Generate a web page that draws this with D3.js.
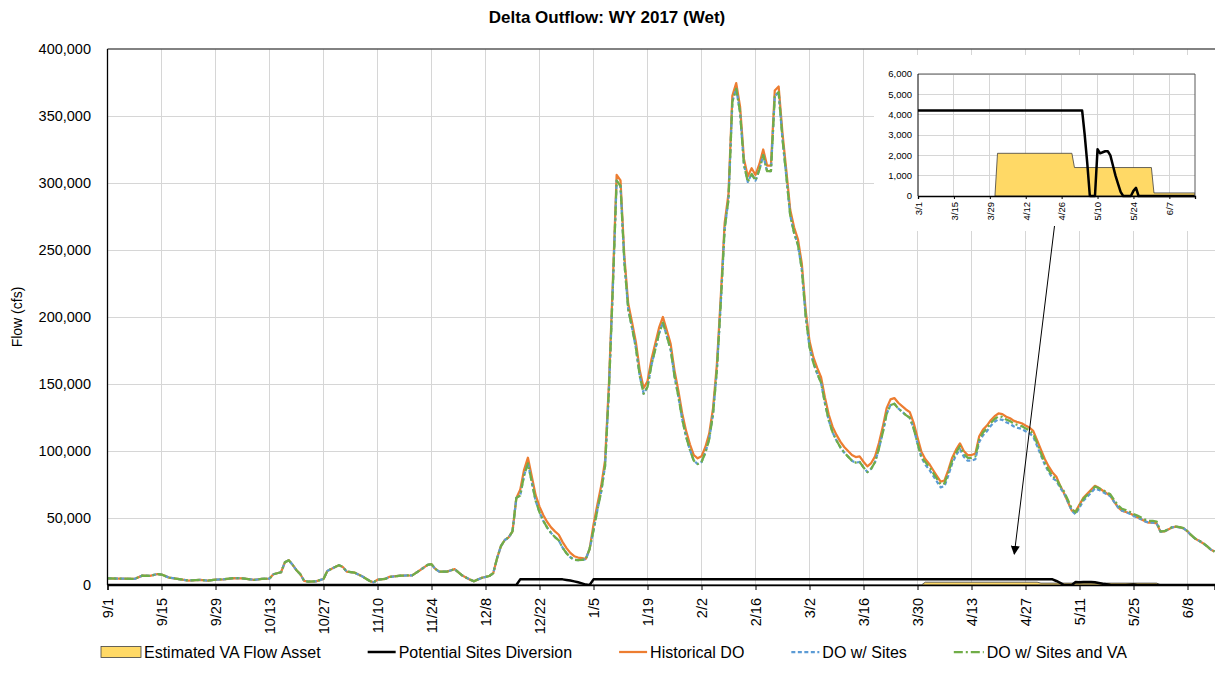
<!DOCTYPE html>
<html><head><meta charset="utf-8">
<script src="https://cdn.jsdelivr.net/npm/d3@7/dist/d3.min.js"></script>
<style>
html,body{margin:0;padding:0;background:#fff;}
svg{display:block;}
text{font-family:"Liberation Sans",Arial,sans-serif;fill:#000;}
.grid line{shape-rendering:crispEdges;}
</style></head><body>
<svg id="chart" width="1215" height="675"></svg>
<script>
// ---------------- DATA ----------------
const chartTitle = "Delta Outflow: WY 2017 (Wet)";
const yAxisTitle = "Flow (cfs)";
const seriesNames = ["Estimated VA Flow Asset","Potential Sites Diversion","Historical DO","DO w/ Sites","DO w/ Sites and VA"];

// Sep 1 - Dec 15: all three outflow series coincide (no diversion, no VA)
const earlyDates = ["9/1","9/4","9/8","9/10","9/12","9/14","9/15","9/17","9/20","9/22","9/25","9/27","9/29",
"10/1","10/4","10/6","10/9","10/11","10/13","10/14","10/16","10/17","10/18","10/19","10/20","10/21","10/22","10/23","10/25","10/27","10/28","10/30","10/31",
"11/1","11/2","11/4","11/6","11/8","11/9","11/10","11/12","11/13","11/16","11/19","11/21","11/23","11/24","11/25","11/26","11/28","11/30",
"12/2","12/4","12/5","12/7","12/9","12/10","12/11","12/12","12/13","12/14","12/15"];
const earlyFlow = [5000,4800,4500,7000,6800,8200,7800,5500,4200,3300,3800,3300,4000,
4200,5200,5000,3800,4600,4800,8000,9500,17000,18500,15000,11000,8000,3000,2600,2700,4500,10500,13500,14800,
13500,10000,9300,6500,3000,2000,4000,4500,6000,7000,7200,11000,15000,15500,12000,10000,10000,11800,
7000,4000,2800,5300,6700,8800,20000,29000,33600,35500,40000];

// Dec 16 - Jun 15 (daily)
const dailyDates = [
"12/16","12/17","12/18","12/19","12/20","12/21","12/22","12/23","12/24","12/25","12/26","12/27","12/28","12/29","12/30","12/31",
"1/1","1/2","1/3","1/4","1/5","1/6","1/7","1/8","1/9","1/10","1/11","1/12","1/13","1/14","1/15","1/16","1/17","1/18","1/19","1/20","1/21","1/22","1/23","1/24","1/25","1/26","1/27","1/28","1/29","1/30","1/31",
"2/1","2/2","2/3","2/4","2/5","2/6","2/7","2/8","2/9","2/10","2/11","2/12","2/13","2/14","2/15","2/16","2/17","2/18","2/19","2/20","2/21","2/22","2/23","2/24","2/25","2/26","2/27","2/28",
"3/1","3/2","3/3","3/4","3/5","3/6","3/7","3/8","3/9","3/10","3/11","3/12","3/13","3/14","3/15","3/16","3/17","3/18","3/19","3/20","3/21","3/22","3/23","3/24","3/25","3/26","3/27","3/28","3/29","3/30","3/31",
"4/1","4/2","4/3","4/4","4/5","4/6","4/7","4/8","4/9","4/10","4/11","4/12","4/13","4/14","4/15","4/16","4/17","4/18","4/19","4/20","4/21","4/22","4/23","4/24","4/25","4/26","4/27","4/28","4/29","4/30",
"5/1","5/2","5/3","5/4","5/5","5/6","5/7","5/8","5/9","5/10","5/11","5/12","5/13","5/14","5/15","5/16","5/17","5/18","5/19","5/20","5/21","5/22","5/23","5/24","5/25","5/26","5/27","5/28","5/29","5/30","5/31",
"6/1","6/2","6/3","6/4","6/5","6/6","6/7","6/8","6/9","6/10","6/11","6/12","6/13","6/14","6/15"];

const historicalDaily = [
65000,71000,86000,95000,81000,67000,58500,52000,47000,43000,40000,37500,32000,27500,24000,21500,
20500,20000,19500,27000,45000,60000,74000,93000,150000,225000,306000,302000,245000,210000,196000,181000,160000,147000,152000,168000,180000,192000,200000,190000,180000,160000,145000,128000,115000,105000,97000,
94500,96000,103000,113000,132000,165000,215000,270000,292000,365000,374500,357000,318000,305000,311000,306000,314000,325000,313000,313000,369000,372000,337000,309000,280000,267000,258000,240000,
205000,182000,170000,162000,155000,140000,127000,118000,112000,107000,103000,100000,97000,95500,96000,92000,88500,91000,96000,106000,118000,132000,138500,139500,136000,133500,131000,129000,121000,110000,99500,
94000,90500,86000,81500,77100,78000,86000,95000,101000,105700,100000,97000,97000,98000,111000,116000,119000,123000,126000,128000,127500,125600,124400,122500,121500,120700,119000,117500,115000,108000,
101000,94000,88500,84000,80800,74000,68400,62000,55500,55000,60000,65000,68000,71000,74000,72500,70500,68500,66500,62000,58000,55500,54500,53500,52000,50500,49000,47500,46500,46500,46000,
39800,40000,41500,43000,43500,43000,42300,40000,37000,34500,33000,31200,29000,26500,24900];

const sitesDaily = [
65000,66800,81800,90800,76800,62800,54300,47800,42800,38800,35800,33300,27800,23700,20700,18800,
18500,18800,19200,27000,40800,55800,69800,88800,145800,220800,301800,297800,240800,205800,191800,176800,155800,142800,147800,163800,175800,187800,195800,185800,175800,155800,140800,123800,110800,100800,92800,
90300,91800,98800,108800,127800,160800,210800,265800,287800,360800,370300,352800,313800,300800,306800,301800,309800,320800,308800,308800,364800,367800,332800,304800,275800,262800,253800,235800,
200800,177800,165800,157800,150800,135800,122800,113800,107800,102800,98800,95800,92800,91300,91800,87800,84300,86800,91800,101800,113800,127800,134300,135300,131800,129300,126800,124800,116800,105800,95300,
89800,86300,81800,77300,72900,73800,81800,90800,96800,101500,95800,92800,92800,93800,106800,111800,114800,118800,121800,123800,123300,121400,120200,118300,117300,116500,114800,113300,110800,103800,
96800,89800,84300,79800,77800,72400,68400,62000,55500,52700,57900,62850,65800,68800,72000,71000,69500,67900,66300,62000,58000,55500,54500,53250,51600,50500,49000,47500,46500,46500,46000,
39800,40000,41500,43000,43500,43000,42300,40000,37000,34500,33000,31200,29000,26500,24900];

const sitesVADaily = [
65000,66800,81800,90800,76800,62800,54300,47800,42800,38800,35800,33300,27800,23700,20700,18800,
18500,18800,19200,27000,40800,55800,69800,88800,145800,220800,301800,297800,240800,205800,191800,176800,155800,142800,147800,163800,175800,187800,195800,185800,175800,155800,140800,123800,110800,100800,92800,
90300,91800,98800,108800,127800,160800,210800,265800,287800,360800,370300,352800,313800,300800,306800,301800,309800,320800,308800,308800,364800,367800,332800,304800,275800,262800,253800,235800,
200800,177800,165800,157800,150800,135800,122800,113800,107800,102800,98800,95800,92800,91300,91800,87800,84300,86800,91800,101800,113800,127800,134300,135300,131800,129300,126800,124800,116800,105800,95300,
91900,88400,83900,79400,75000,75900,83900,92900,98900,103600,97900,94900,94900,95900,108900,113900,116900,120900,123900,125900,125400,123500,122300,120400,119400,118600,116900,115400,112900,105900,
98200,91200,85700,81200,79200,73800,69800,63400,56900,54100,59300,64250,67200,70200,73400,72400,70900,69300,67700,63400,59400,56900,55900,54650,53000,51900,50400,48900,47900,47900,47400,
39950,40150,41650,43150,43650,43150,42450,40150,37150,34650,33150,31350,29150,26650,25050];

const diversionDates = ["9/1","12/16","12/17","12/28","12/29","12/30","12/31","1/1","1/2","1/3","1/4","1/5","5/4","5/5","5/6","5/7","5/9","5/10","5/11","5/12","5/13","5/14","5/15","5/16","5/17","5/18","5/19","5/20","5/23","5/24","5/25","5/26","6/17"];
const diversionValues = [0,0,4200,4200,3800,3300,2700,2000,1200,300,0,4200,4200,3000,1600,0,0,2300,2100,2150,2200,2200,2000,1500,1000,600,200,0,0,250,400,0,0];

const vaDates = ["9/1","3/31","4/1","4/30","5/1","5/31","6/1","6/17"];
const vaValues = [0,0,2100,2100,1400,1400,150,150];

const mainTickLabels = ["9/1","9/15","9/29","10/13","10/27","11/10","11/24","12/8","12/22","1/5","1/19","2/2","2/16","3/2","3/16","3/30","4/13","4/27","5/11","5/25","6/8"];
const yTickValues = [0,50000,100000,150000,200000,250000,300000,350000,400000];
const insetTickLabels = ["3/1","3/15","3/29","4/12","4/26","5/10","5/24","6/7"];
const insetYTickValues = [0,1000,2000,3000,4000,5000,6000];

// ---------------- HELPERS ----------------
const parseMD = s => { const [m, d] = s.split("/").map(Number); return new Date(m >= 8 ? 2016 : 2017, m - 1, d); };
const fmt = d3.format(",");
const zip = (ds, vs) => ds.map((d, i) => ({date: parseMD(d), v: vs[i]}));
const crisp = v => Math.round(v - 0.5) + 0.5;

const allDates = earlyDates.concat(dailyDates);
const histData = zip(allDates, earlyFlow.concat(historicalDaily));
const sitesData = zip(allDates, earlyFlow.concat(sitesDaily));
const sitesVAData = zip(allDates, earlyFlow.concat(sitesVADaily));
const divData = zip(diversionDates, diversionValues);
const vaData = zip(vaDates, vaValues);

const COL = {va:"#FFD966", vaStroke:"#404040", div:"#000000", hist:"#ED7D31", sites:"#5B9BD5", sitesVA:"#70AD47", grid:"#D6D6D6"};
const DASH = {sites:"4,2.5", sitesVA:"9,3,2,3"};

const svg = d3.select("#chart");
svg.append("rect").attr("width",1215).attr("height",675).attr("fill","#fff");

// ---------------- MAIN CHART ----------------
const P = {l:107.5, r:1214.5, t:49, b:585};
const x = d3.scaleTime().domain([parseMD("9/1"), parseMD("6/15")]).range([P.l, P.r]);
const y = d3.scaleLinear().domain([0, 400000]).range([P.b, P.t]);

svg.append("text").attr("x",607).attr("y",23).attr("text-anchor","middle")
  .style("font-size","17px").style("font-weight","bold").text(chartTitle);
svg.append("text").attr("transform","translate(22,317) rotate(-90)").attr("text-anchor","middle")
  .style("font-size","14px").text(yAxisTitle);

const main = svg.append("g");
const gridMain = main.append("g").attr("class","grid");
gridMain.selectAll("line.h").data(yTickValues.filter(v => v > 0 && v < 400000)).join("line").attr("class","h")
  .attr("x1",P.l).attr("x2",1215).attr("y1",d=>crisp(y(d))).attr("y2",d=>crisp(y(d))).attr("stroke",COL.grid).attr("stroke-width",1);
gridMain.selectAll("line.v").data(mainTickLabels.slice(1)).join("line").attr("class","v")
  .attr("x1",d=>crisp(x(parseMD(d)))).attr("x2",d=>crisp(x(parseMD(d)))).attr("y1",P.t).attr("y2",P.b).attr("stroke",COL.grid).attr("stroke-width",1);
main.append("line").attr("x1",P.l).attr("x2",1215).attr("y1",y(400000)).attr("y2",y(400000)).attr("stroke","#595959").attr("stroke-width",1.3);

main.append("g").selectAll("text").data(yTickValues).join("text")
  .attr("x",91).attr("y",d=>y(d)).attr("dy","0.35em").attr("text-anchor","end")
  .style("font-size","14.5px").text(d=>fmt(d));

svg.append("clipPath").attr("id","mainClip").append("rect").attr("x",P.l).attr("y",P.t-5).attr("width",1215-P.l).attr("height",P.b-P.t+6);
const plot = main.append("g").attr("clip-path","url(#mainClip)");

const areaMain = d3.area().x(d=>x(d.date)).y0(y(0)).y1(d=>y(d.v));
const lineMain = d3.line().x(d=>x(d.date)).y(d=>y(d.v)).curve(d3.curveLinear);

plot.append("path").datum(vaData).attr("d",areaMain).attr("fill",COL.va).attr("stroke",COL.vaStroke).attr("stroke-width",0.8);
plot.append("path").datum(divData).attr("d",lineMain).attr("fill","none").attr("stroke",COL.div).attr("stroke-width",2.5).attr("stroke-linejoin","round");
plot.append("path").datum(histData).attr("d",lineMain).attr("fill","none").attr("stroke",COL.hist).attr("stroke-width",2.25).attr("stroke-linejoin","round");
plot.append("path").datum(sitesData).attr("d",lineMain).attr("fill","none").attr("stroke",COL.sites).attr("stroke-width",2.25).attr("stroke-dasharray",DASH.sites).attr("stroke-linejoin","round");
plot.append("path").datum(sitesVAData).attr("d",lineMain).attr("fill","none").attr("stroke",COL.sitesVA).attr("stroke-width",2.25).attr("stroke-dasharray",DASH.sitesVA).attr("stroke-linejoin","round");

main.append("line").attr("x1",P.l).attr("x2",P.l).attr("y1",P.t).attr("y2",P.b).attr("stroke","#000").attr("stroke-width",1.3);
const xAxis = d3.axisBottom(x).tickValues(mainTickLabels.map(parseMD)).tickSize(5).tickFormat((d,i)=>mainTickLabels[i]);
const gx = main.append("g").attr("transform",`translate(0,${P.b})`).call(xAxis);
gx.select(".domain").attr("stroke","#000").attr("stroke-width",1.3);
gx.selectAll(".tick line").attr("stroke","#000");
gx.selectAll(".tick text").attr("transform","rotate(-90)").attr("x",-13).attr("y",0).attr("dy","0.35em")
  .style("text-anchor","end").style("font-size","14.5px").style("font-family",'"Liberation Sans",Arial,sans-serif').attr("fill","#000");

// ---------------- INSET ----------------
const I = {l:918, r:1195, t:74, b:196};
svg.append("rect").attr("x",874).attr("y",55).attr("width",1215-874).attr("height",176).attr("fill","#fff");
const ix = d3.scaleTime().domain([parseMD("3/1"), parseMD("6/17")]).range([I.l, I.r]);
const iy = d3.scaleLinear().domain([0, 6000]).range([I.b, I.t]);
const inset = svg.append("g");
const gridIn = inset.append("g").attr("class","grid");
gridIn.selectAll("line.h").data(insetYTickValues.filter(v=>v>0)).join("line").attr("class","h")
  .attr("x1",I.l).attr("x2",I.r).attr("y1",d=>crisp(iy(d))).attr("y2",d=>crisp(iy(d))).attr("stroke",COL.grid).attr("stroke-width",1);
gridIn.selectAll("line.v").data(insetTickLabels.slice(1)).join("line").attr("class","v")
  .attr("x1",d=>crisp(ix(parseMD(d)))).attr("x2",d=>crisp(ix(parseMD(d)))).attr("y1",I.t).attr("y2",I.b).attr("stroke",COL.grid).attr("stroke-width",1);
inset.append("g").selectAll("text").data(insetYTickValues).join("text")
  .attr("x",912).attr("y",d=>iy(d)).attr("dy","0.35em").attr("text-anchor","end").style("font-size","9.5px").text(d=>fmt(d));

svg.append("clipPath").attr("id","insetClip").append("rect").attr("x",I.l).attr("y",I.t).attr("width",I.r-I.l).attr("height",I.b-I.t+2);
const iplot = inset.append("g").attr("clip-path","url(#insetClip)");
const areaIn = d3.area().x(d=>ix(d.date)).y0(iy(0)).y1(d=>iy(d.v));
const lineIn = d3.line().x(d=>ix(d.date)).y(d=>iy(d.v));
iplot.append("path").datum(vaData.filter(d=>d.date >= parseMD("3/31"))).attr("d",areaIn).attr("fill",COL.va).attr("stroke",COL.vaStroke).attr("stroke-width",0.8);
const divInset = [{date: parseMD("3/1"), v: 4200}].concat(divData.filter(d=>d.date > parseMD("3/1")));
iplot.append("path").datum(divInset).attr("d",lineIn).attr("fill","none").attr("stroke",COL.div).attr("stroke-width",2.5).attr("stroke-linejoin","round");

inset.append("line").attr("x1",I.l).attr("x2",I.r).attr("y1",I.t).attr("y2",I.t).attr("stroke","#595959").attr("stroke-width",1);
inset.append("line").attr("x1",I.r).attr("x2",I.r).attr("y1",I.t).attr("y2",I.b).attr("stroke","#595959").attr("stroke-width",1);
inset.append("line").attr("x1",I.l).attr("x2",I.l).attr("y1",I.t).attr("y2",I.b).attr("stroke","#000").attr("stroke-width",1);
const ixAxis = d3.axisBottom(ix).tickValues(insetTickLabels.map(parseMD)).tickSize(3).tickFormat((d,i)=>insetTickLabels[i]);
const gix = inset.append("g").attr("transform",`translate(0,${I.b})`).call(ixAxis);
gix.select(".domain").attr("stroke","#000").attr("stroke-width",1.3);
gix.selectAll(".tick line").attr("stroke","#000");
gix.selectAll(".tick text").attr("transform","rotate(-90)").attr("x",-6).attr("y",0).attr("dy","0.35em")
  .style("text-anchor","end").style("font-size","9.5px").style("font-family",'"Liberation Sans",Arial,sans-serif').attr("fill","#000");

const defs = svg.append("defs");
defs.append("marker").attr("id","arrowHead").attr("viewBox","0 0 10 10").attr("refX",9).attr("refY",5)
  .attr("markerWidth",9).attr("markerHeight",9).attr("markerUnits","userSpaceOnUse").attr("orient","auto")
  .append("path").attr("d","M0,0 L10,5 L0,10 Z").attr("fill","#000");
svg.append("line").attr("x1",1054.5).attr("y1",226).attr("x2",1014.3).attr("y2",554)
  .attr("stroke","#000").attr("stroke-width",1).attr("marker-end","url(#arrowHead)");

// ---------------- LEGEND ----------------
const legend = svg.append("g");
const legendY = 652;
const items = seriesNames.map((n,i)=>({name:n, idx:i}));
const symW = [40,28,28,28,30];
const gapSym = 3, gapItem = 47;
const fs = "16px";
const tmp = legend.append("g");
const widths = items.map(it => { const t = tmp.append("text").style("font-size",fs).text(it.name); return t.node().getComputedTextLength(); });
tmp.remove();
const total = items.reduce((s,it,i)=>s+symW[i]+gapSym+widths[i], 0) + gapItem*(items.length-1);
let cx = 614 - total/2;
items.forEach((it,i)=>{
  const g = legend.append("g").attr("transform",`translate(${cx},${legendY})`);
  if (i===0) {
    g.append("rect").attr("x",0).attr("y",-5.5).attr("width",symW[0]).attr("height",11).attr("fill",COL.va).attr("stroke",COL.vaStroke).attr("stroke-width",0.8);
  } else {
    const st = [null,{c:COL.div,w:2.5,d:null},{c:COL.hist,w:2.25,d:null},{c:COL.sites,w:2.25,d:DASH.sites},{c:COL.sitesVA,w:2.25,d:DASH.sitesVA}][i];
    const l = g.append("line").attr("x1",0).attr("x2",symW[i]).attr("y1",0).attr("y2",0).attr("stroke",st.c).attr("stroke-width",st.w);
    if (st.d) l.attr("stroke-dasharray",st.d);
  }
  g.append("text").attr("x",symW[i]+gapSym).attr("y",0).attr("dy","0.35em").style("font-size",fs).text(it.name);
  cx += symW[i]+gapSym+widths[i]+gapItem;
});
</script>
</body></html>
